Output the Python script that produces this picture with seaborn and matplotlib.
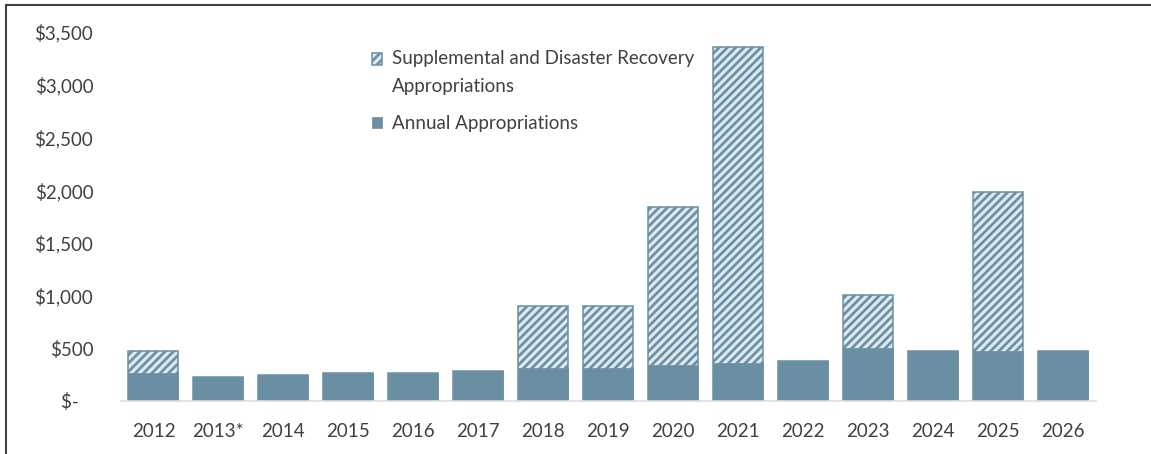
import matplotlib
matplotlib.use("Agg")
import matplotlib.pyplot as plt
import seaborn as sns
import pandas as pd
from matplotlib.lines import Line2D
from matplotlib.ticker import FuncFormatter

# ---- data (millions of dollars) ----
years = ["2012", "2013*", "2014", "2015", "2016", "2017", "2018", "2019",
         "2020", "2021", "2022", "2023", "2024", "2025", "2026"]
annual = [265, 231, 250, 263, 263, 282, 310, 310, 341, 357, 376, 506, 471, 471, 471]
supplemental = [205, 0, 0, 0, 0, 0, 594, 594, 1502, 3002, 0, 497, 0, 1515, 0]
yticks = [0, 500, 1000, 1500, 2000, 2500, 3000, 3500]
label_supp = "Supplemental and Disaster Recovery\nAppropriations"
label_annual = "Annual Appropriations"

df = pd.DataFrame({"year": years, "annual": annual, "supplemental": supplemental})
df["total"] = df["annual"] + df["supplemental"]

BLUE = "#6a8fa3"
LIGHT = "#dde8ee"
TXT = "#404040"

sns.set_theme(style="white")
plt.rcParams["font.family"] = ["Lato", "DejaVu Sans"]
plt.rcParams["hatch.linewidth"] = 1.9

fig = plt.figure(figsize=(11.51, 4.54), dpi=100)
ax = fig.add_axes([121 / 1151, 1 - 401 / 454, (1095.5 - 121) / 1151, (401 - 32) / 454])

sns.barplot(data=df, x="year", y="total", ax=ax, width=0.77, errorbar=None,
            color=LIGHT, label=label_supp)
supp_bars = list(ax.patches)
for p in supp_bars:
    p.set_facecolor(LIGHT)
    p.set_edgecolor(BLUE)
    p.set_linewidth(1.1)
    p.set_hatch("////")

sns.barplot(data=df, x="year", y="annual", ax=ax, width=0.77, errorbar=None,
            color=BLUE, label=label_annual)
ann_bars = [p for p in ax.patches if p not in supp_bars]
for p in ann_bars:
    p.set_facecolor(BLUE)
    p.set_edgecolor(BLUE)
    p.set_linewidth(0.5)

if ax.get_legend() is not None:
    ax.get_legend().remove()

ax.set_xlim(-0.5, len(years) - 0.5)
ax.set_ylim(0, 3500)
ax.set_yticks(yticks)
ax.yaxis.set_major_formatter(FuncFormatter(lambda v, _: "$-   " if v == 0 else f"${v:,.0f}"))
ax.set_xlabel("")
ax.set_ylabel("")
ax.tick_params(axis="both", length=0, labelsize=13.5, labelcolor=TXT)
ax.tick_params(axis="y", pad=20)
ax.tick_params(axis="x", pad=16)
for s in ["left", "right", "top"]:
    ax.spines[s].set_visible(False)
ax.spines["bottom"].set_color("#d5dfe5")
ax.spines["bottom"].set_linewidth(1.2)
ax.grid(False)

handles, labels = ax.get_legend_handles_labels()
leg = fig.legend(handles, labels, loc="upper left",
                 bbox_to_anchor=(372 / 1151, 1 - 50 / 454),
                 frameon=False, fontsize=13.5, handlelength=0.55, handleheight=0.55,
                 handletextpad=0.5, labelspacing=1.05, borderpad=0, borderaxespad=0)
for t in leg.get_texts():
    t.set_color(TXT)
    t.set_linespacing(1.8)
# align the hatched handle with the first line of its two-line label
h0 = leg.legend_handles[0]
h0.set_y(h0.get_y() + 10.0)

# outer frame (left and top edges visible)
fig.add_artist(Line2D([6 / 1151, 6 / 1151], [0, 1 - 5 / 454], transform=fig.transFigure,
                      color="#404040", lw=1.5))
fig.add_artist(Line2D([6 / 1151, 1], [1 - 5 / 454, 1 - 5 / 454], transform=fig.transFigure,
                      color="#404040", lw=1.5))

fig.savefig("out.png", dpi=100)
